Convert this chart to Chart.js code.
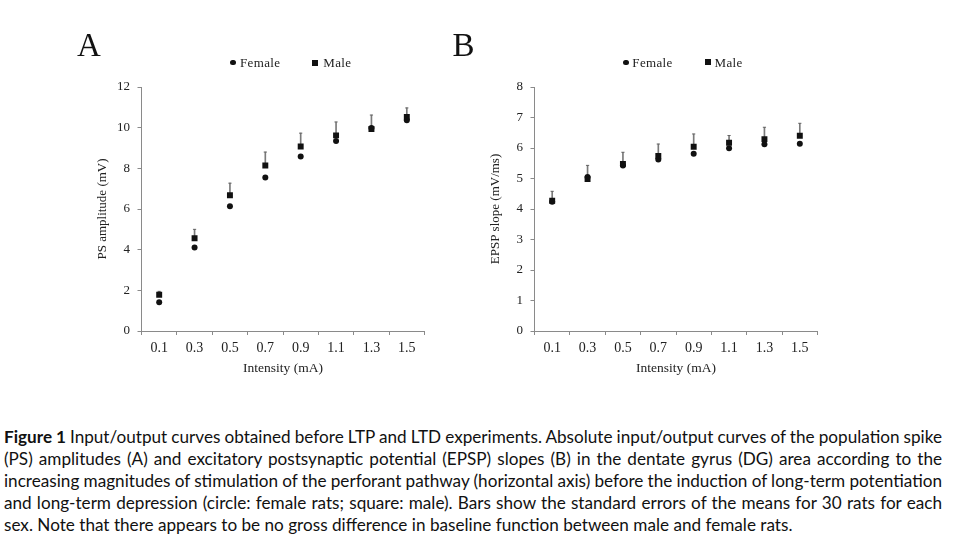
<!DOCTYPE html>
<html>
<head>
<meta charset="utf-8">
<script src="https://cdn.jsdelivr.net/npm/chart.js@4.4.1/dist/chart.umd.min.js"></script>
<style>
  html, body { margin: 0; padding: 0; background: #fff; }
  #root { position: relative; width: 955px; height: 546px; overflow: hidden; background: #fff; }
  .panel { position: absolute; top: 0; height: 400px; }
  .plabel { position: absolute; font-family: "Liberation Serif", serif; font-size: 33px; line-height: 33px; color: #111; }
  .leg { position: absolute; font-family: "Liberation Serif", serif; font-size: 13px; line-height: 13px; color: #222; white-space: nowrap; letter-spacing: 0.35px; }
  .mk { position: absolute; background: #111; }
  .cap { position: absolute; left: 4px; font-family: Lato, "Open Sans", sans-serif; font-size: 16px; line-height: 22px; white-space: nowrap; color: #111; }
</style>
</head>
<body>
<div id="root">
  <div class="panel" style="left:0;width:440px;"><canvas id="chartA"></canvas></div>
  <div class="panel" style="left:440px;width:440px;"><canvas id="chartB"></canvas></div>

  <div class="plabel" style="left:77px;top:29.3px;">A</div>
  <div class="plabel" style="left:452.5px;top:29.3px;">B</div>

  <div class="mk" style="left:230px;top:59.8px;width:5.5px;height:5.5px;border-radius:50%;"></div>
  <div class="leg" style="left:240px;top:56.1px;">Female</div>
  <div class="mk" style="left:312.3px;top:59.5px;width:6px;height:6px;"></div>
  <div class="leg" style="left:323.3px;top:56.1px;">Male</div>

  <div class="mk" style="left:623px;top:59.6px;width:5.5px;height:5.5px;border-radius:50%;"></div>
  <div class="leg" style="left:632.3px;top:56.1px;">Female</div>
  <div class="mk" style="left:704.5px;top:59.3px;width:6px;height:6px;"></div>
  <div class="leg" style="left:714.5px;top:56.1px;">Male</div>

  <div id="caption"></div>
</div>
<script>
// ---- data ----
const intensities = ['0.1', '0.3', '0.5', '0.7', '0.9', '1.1', '1.3', '1.5'];

const psFemale   = [1.42, 4.11, 6.13, 7.55, 8.58, 9.34, 9.98, 10.36];
const psMale     = [1.78, 4.56, 6.68, 8.14, 9.07, 9.62, 9.93, 10.52];
const psMaleSETop = [1.95, 5.00, 7.27, 8.80, 9.73, 10.28, 10.62, 10.97];

const epspFemale   = [4.24, 5.05, 5.43, 5.62, 5.81, 5.99, 6.12, 6.14];
const epspMale     = [4.27, 4.98, 5.48, 5.74, 6.04, 6.17, 6.29, 6.40];
const epspMaleSETop = [4.58, 5.43, 5.86, 6.13, 6.46, 6.41, 6.68, 6.81];

const psAxis   = { min: 0, max: 12, step: 2, title: 'PS amplitude (mV)' };
const epspAxis = { min: 0, max: 8,  step: 1, title: 'EPSP slope (mV/ms)' };
const xAxisTitle = 'Intensity (mA)';

const captionBold = 'Figure 1';
const captionLines = [
  ' Input/output curves obtained before LTP and LTD experiments. Absolute input/output curves of the population spike',
  '(PS) amplitudes (A) and excitatory postsynaptic potential (EPSP) slopes (B) in the dentate gyrus (DG) area according to the',
  'increasing magnitudes of stimulation of the perforant pathway (horizontal axis) before the induction of long-term potentiation',
  'and long-term depression (circle: female rats; square: male). Bars show the standard errors of the means for 30 rats for each',
  'sex. Note that there appears to be no gross difference in baseline function between male and female rats.'
];

// ---- charts ----
const serif = '"Liberation Serif", "Times New Roman", serif';
const textCol = '#222';
const axisCol = '#8a8a8a';

function makeChart(id, female, male, seTop, axis, geom) {
  return new Chart(document.getElementById(id), {
    type: 'bar',
    data: {
      labels: intensities,
      datasets: [
        { type: 'line', label: 'Male', data: male, showLine: false,
          pointStyle: 'rect', pointRadius: 4.2, pointHoverRadius: 4.2,
          pointBackgroundColor: '#111', pointBorderWidth: 0, order: 0 },
        { type: 'line', label: 'Female', data: female, showLine: false,
          pointStyle: 'circle', pointRadius: 3, pointHoverRadius: 3,
          pointBackgroundColor: '#111', pointBorderWidth: 0, order: 1 },
        { type: 'line', label: 'SE cap', data: seTop, showLine: false,
          pointStyle: 'line', pointRadius: 1.6, pointHoverRadius: 1.6,
          pointBorderColor: '#666', pointBorderWidth: 1, order: 2 },
        { type: 'bar', label: 'SE', data: male.map((v, i) => [v, seTop[i]]),
          backgroundColor: '#7a7a7a', borderWidth: 0, barThickness: 1, order: 3 }
      ]
    },
    options: {
      responsive: true,
      maintainAspectRatio: false,
      devicePixelRatio: 1,
      animation: false,
      events: [],
      layout: { padding: { left: geom.left, right: geom.right, top: 87, bottom: 19.9 } },
      plugins: { legend: { display: false }, tooltip: { enabled: false }, title: { display: false } },
      scales: {
        x: {
          type: 'category', offset: true,
          grid: { display: true, drawOnChartArea: false, drawTicks: true, tickLength: 4, offset: true, color: axisCol, lineWidth: 1 },
          border: { display: true, color: axisCol, width: 1 },
          ticks: { color: textCol, font: { family: serif, size: 14 }, padding: 4.9, maxRotation: 0, autoSkip: false },
          title: { display: true, text: xAxisTitle, color: textCol, font: { family: serif, size: 13.5 }, padding: { top: 4, bottom: 4 } },
          afterFit: s => { s.height = 49.1; }
        },
        y: {
          min: axis.min, max: axis.max,
          grid: { display: true, drawOnChartArea: false, drawTicks: true, tickLength: 4, color: axisCol, lineWidth: 1 },
          border: { display: true, color: axisCol, width: 1 },
          ticks: { stepSize: axis.step, color: textCol, font: { family: serif, size: 13 }, padding: 7.5 },
          title: { display: true, text: axis.title, color: textCol, font: { family: serif, size: 13 }, padding: { top: 4, bottom: 4 } },
          afterFit: s => { s.width = geom.yWidth; }
        }
      }
    }
  });
}

makeChart('chartA', psFemale, psMale, psMaleSETop, psAxis, { left: 91, right: 15.5, yWidth: 50.5 });
makeChart('chartB', epspFemale, epspMale, epspMaleSETop, epspAxis, { left: 44.2, right: 62.5, yWidth: 50.3 });

// ---- caption (justified lines) ----
(function () {
  const cap = document.getElementById('caption');
  const lines = [];
  captionLines.forEach((t, i) => {
    const d = document.createElement('div');
    d.className = 'cap';
    if (i === 0) {
      const b = document.createElement('b');
      b.textContent = captionBold;
      d.appendChild(b);
    }
    const s = document.createElement('span');
    s.textContent = t;
    d.appendChild(s);
    const m = document.createElement('span');
    m.style.cssText = 'display:inline-block;width:0;height:0;vertical-align:baseline;';
    d.appendChild(m);
    cap.appendChild(d);
    lines.push({ d, m, text: (i === 0 ? captionBold : '') + t });
  });
  const last = lines[lines.length - 1].d;
  const w0 = last.getBoundingClientRect().width;
  const fs = 16 * 789 / w0;
  lines.forEach(l => { l.d.style.fontSize = fs + 'px'; });
  const targetW = 938;
  lines.forEach((l, i) => {
    if (i < lines.length - 1) {
      const w = l.d.getBoundingClientRect().width;
      const spaces = (l.text.match(/ /g) || []).length;
      l.d.style.wordSpacing = ((targetW - w) / spaces) + 'px';
    }
    const base = l.m.getBoundingClientRect().top - l.d.getBoundingClientRect().top;
    l.d.style.top = (442.5 + 22 * i - base) + 'px';
  });
})();
</script>
</body>
</html>
